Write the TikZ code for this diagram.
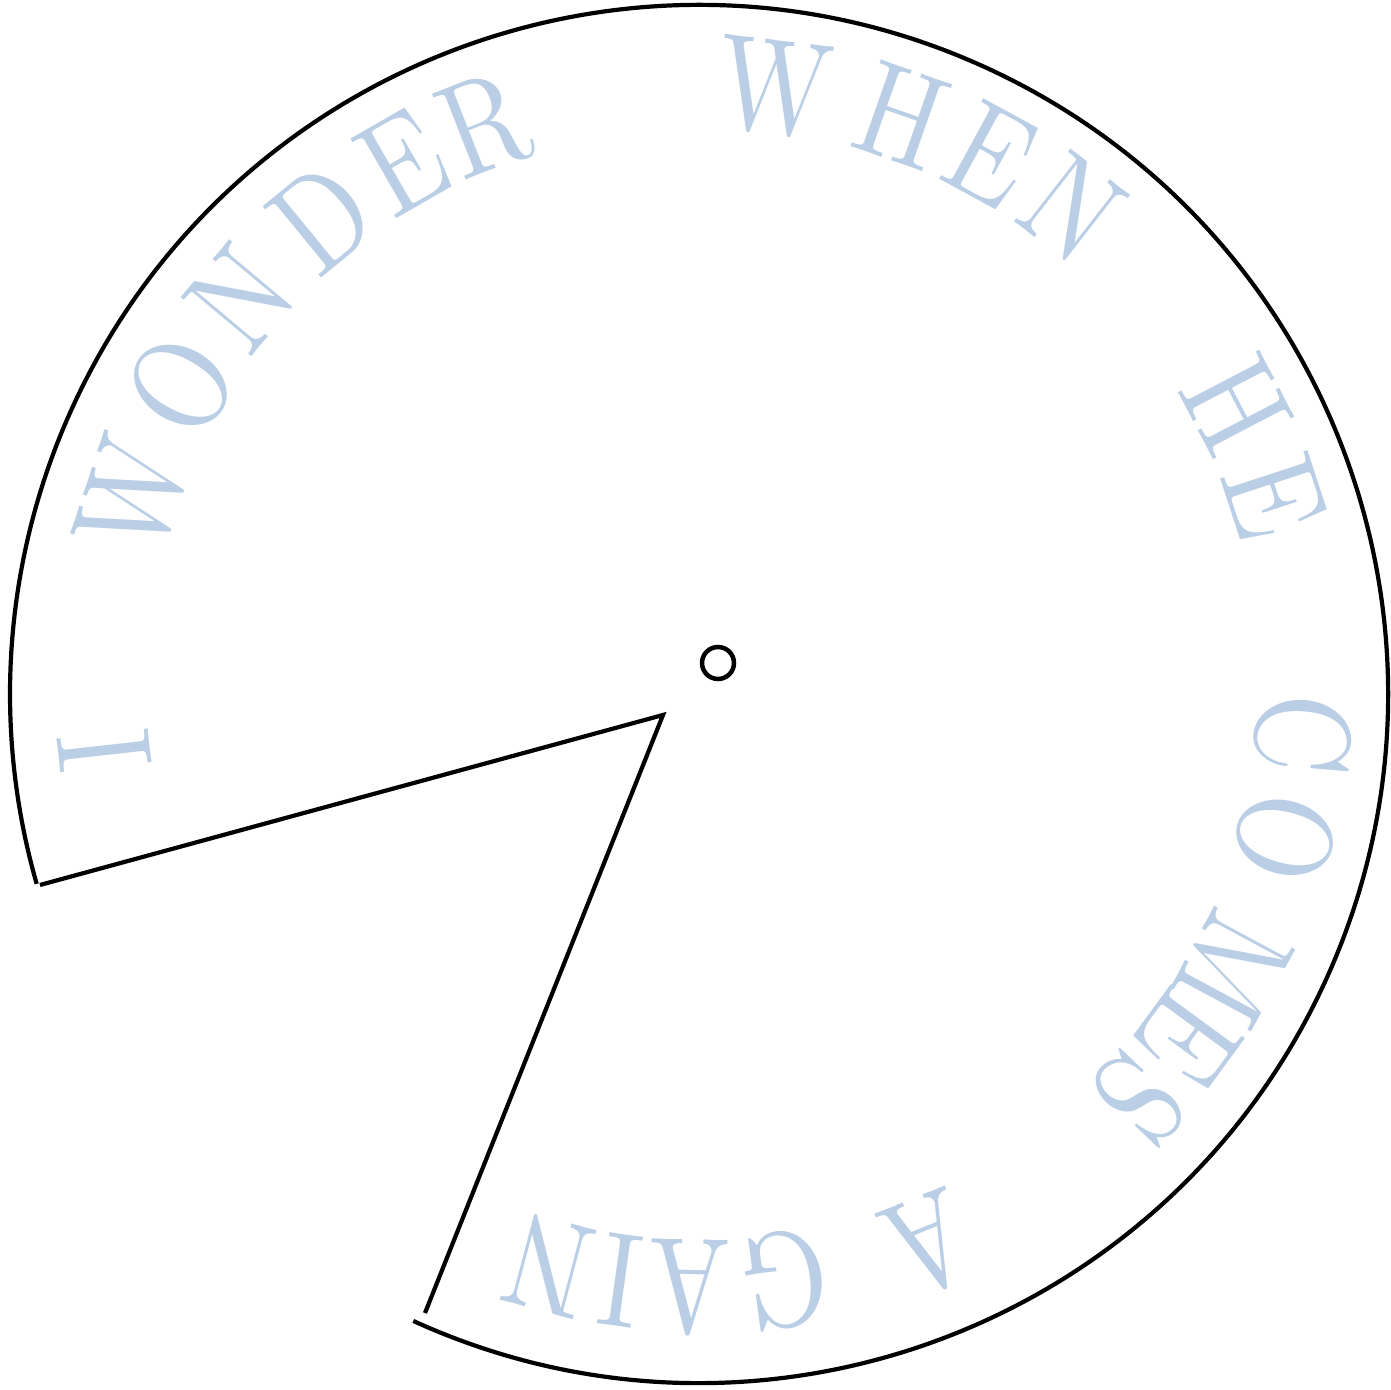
\documentclass[tikz,border=0pt]{standalone}
\usepackage{fontspec}
\newfontfamily\lettfont{lmroman10-regular.otf}[FakeStretch=0.82]
\definecolor{letterblue}{RGB}{186,206,230}
\begin{document}
\begin{tikzpicture}[x=1pt,y=1pt,
  rim/.style={line width=4.2pt, line join=miter},
  lett/.style={text=letterblue, inner sep=0pt, anchor=base,
    font=\lettfont\fontsize{135}{135}\selectfont}]
\useasboundingbox (0,0) rectangle (1391,1389);
\coordinate (c) at (699,695);
\coordinate (tc) at (703,705);
\coordinate (v) at (663,674);
\coordinate (p1) at (40,504);
\coordinate (p2) at (425,76);
\draw[rim] ([shift={(-114.5:689)}]c) arc[start angle=-114.5, end angle=196, radius=689];
\draw[rim] (p1) -- (v) -- (p2);
\node[draw, circle, line width=4.5pt, minimum size=32pt, inner sep=0pt] (hole) at (718,726) {};
\foreach \l/\a [count=\i] in {I/186.4, W/161.8, O/150.2, N/140.1, D/129.3, E/119.9, R/111.4,
  W/83.2, H/70.7, E/61.4, N/52.1,
  H/27.6, E/18.1,
  C/-4.8, O/-14.8, M/-28.3, E/-36.2, S/-43.6,
  A/-68.1, G/-82.2, A/-91.3, I/-97.9, N/-104.9}
  \node[lett, rotate={\a-90}] (t\i) at ([shift={(\a:556)}]tc) {\l};
\end{tikzpicture}
\end{document}
